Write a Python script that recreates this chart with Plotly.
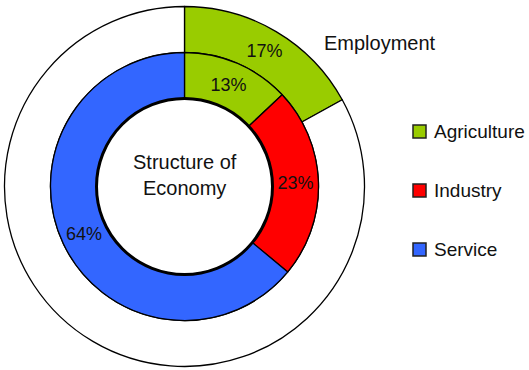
import plotly.graph_objects as go

# ---- data ----
sectors = ["Agriculture", "Industry", "Service"]
economy_share = [13, 23, 64]          # inner ring: structure of economy (%)
employment_labels = ["Agriculture", "Other"]
employment_share = [17, 83]           # outer ring: employment (%)
sector_colors = ["#99CC00", "#FF0000", "#3366FF"]

W, H = 529, 370
cx, cy = 184.5, 183.5        # pie centre in px (from left, from bottom)
r_outer, r_mid, r_hole = 180, 134, 88

def dom(r):
    return dict(x=[(cx - r) / W, (cx + r) / W], y=[(cy - r) / H, (cy + r) / H])

font_family = "Arial, Liberation Sans, sans-serif"

fig = go.Figure()

fig.add_trace(go.Pie(
    labels=employment_labels, values=employment_share,
    domain=dom(r_outer), hole=r_mid / r_outer,
    sort=False, direction="clockwise", rotation=0,
    marker=dict(colors=[sector_colors[0], "#FFFFFF"], line=dict(color="#000000", width=1.3)),
    text=[f"{employment_share[0]}%", ""], textinfo="text",
    textposition="inside", insidetextorientation="horizontal",
    textfont=dict(family=font_family, size=18, color="#111111"),
    hoverinfo="skip", showlegend=False,
))

fig.add_trace(go.Pie(
    labels=sectors, values=economy_share,
    domain=dom(r_mid), hole=r_hole / r_mid,
    sort=False, direction="clockwise", rotation=0,
    marker=dict(colors=sector_colors, line=dict(color="#000000", width=1.3)),
    text=[f"{v}%" for v in economy_share], textinfo="text",
    textposition="inside", insidetextorientation="horizontal",
    textfont=dict(family=font_family, size=18, color="#111111"),
    hoverinfo="skip", showlegend=False,
))

shapes = []
annotations = []

# thick edge of the centre hole
shapes.append(dict(type="circle", xref="paper", yref="paper",
                   x0=(cx - r_hole) / W, x1=(cx + r_hole) / W,
                   y0=(cy - r_hole) / H, y1=(cy + r_hole) / H,
                   line=dict(color="#000000", width=3), layer="above"))

# centre title
annotations.append(dict(text="Structure of<br>Economy", x=185 / W, y=(H - 175) / H,
                        xref="paper", yref="paper", showarrow=False,
                        xanchor="center", yanchor="middle",
                        font=dict(family=font_family, size=20, color="#111111")))

# ring label
annotations.append(dict(text="Employment", x=380 / W, y=(H - 43) / H,
                        xref="paper", yref="paper", showarrow=False,
                        xanchor="center", yanchor="middle",
                        font=dict(family=font_family, size=20, color="#111111")))

# manual legend
leg_x, leg_y0, leg_step, sq = 419.5, 131.5, 59, 13
for i, (name, col) in enumerate(zip(sectors, sector_colors)):
    yc = H - (leg_y0 + i * leg_step)
    shapes.append(dict(type="rect", xref="paper", yref="paper",
                       x0=(leg_x - sq / 2) / W, x1=(leg_x + sq / 2) / W,
                       y0=(yc - sq / 2) / H, y1=(yc + sq / 2) / H,
                       fillcolor=col, line=dict(color="#222222", width=1.5)))
    annotations.append(dict(text=name, x=432 / W, y=yc / H, xref="paper", yref="paper",
                            showarrow=False, xanchor="left", yanchor="middle",
                            font=dict(family=font_family, size=19, color="#111111")))

fig.update_layout(
    width=W, height=H, margin=dict(l=0, r=0, t=0, b=0),
    paper_bgcolor="#FFFFFF", plot_bgcolor="#FFFFFF",
    shapes=shapes, annotations=annotations, showlegend=False,
)

fig.write_html("out.html")
